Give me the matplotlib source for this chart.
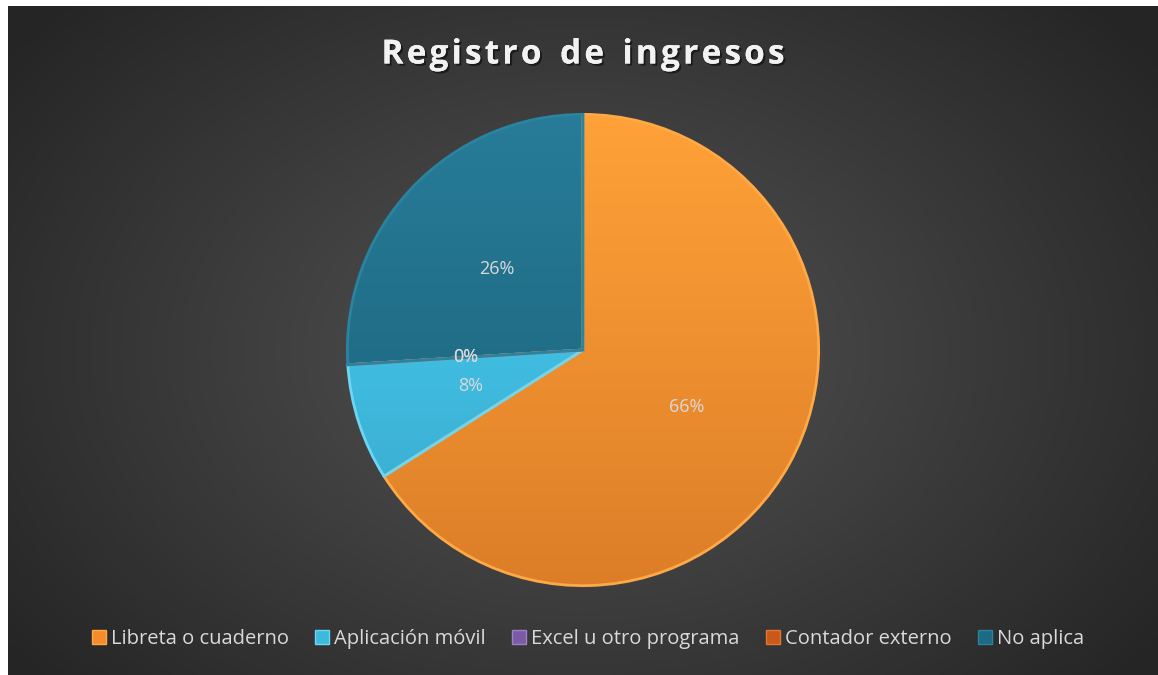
import numpy as np
import matplotlib
matplotlib.use("Agg")
import matplotlib.pyplot as plt
import matplotlib.patheffects as pe
from matplotlib.patches import Rectangle
from matplotlib.colors import to_rgb

categories = ["Libreta o cuaderno", "Aplicación móvil", "Excel u otro programa",
              "Contador externo", "No aplica"]
values = [66, 8, 0, 0, 26]
colors = ["#F58C2C", "#3DB9DE", "#7B5BA6", "#C9581A", "#1D6A84"]
edge_colors = ["#FFA846", "#6CD6F5", "#9C80C8", "#E07830", "#2A839F"]
title = "Registro de ingresos"

W, H = 1158, 675
fig = plt.figure(figsize=(W / 100, H / 100), dpi=100)
fig.patch.set_facecolor("#262626")

# background with radial gradient
bg = fig.add_axes([0, 0, 1, 1])
bg.set_axis_off()
ny, nx = 400, 700
yy, xx = np.mgrid[0:ny, 0:nx]
cx, cy = nx * 0.5, ny * 0.52
d = np.sqrt(((xx - cx) / (nx * 0.62)) ** 2 + ((yy - cy) / (ny * 0.75)) ** 2)
d = np.clip(d, 0, 1)
c_in = np.array([0x54, 0x54, 0x54]) / 255
c_out = np.array([0x25, 0x25, 0x25]) / 255
img = c_in[None, None, :] * (1 - d[..., None]) + c_out[None, None, :] * d[..., None]
bg.imshow(img, extent=[0, 1, 0, 1], aspect="auto", origin="upper")
bg.set_xlim(0, 1)
bg.set_ylim(0, 1)
# white margins at left and top
bg.add_patch(Rectangle((0, 0), 8 / W, 1, facecolor="white", edgecolor="none", zorder=5))
bg.add_patch(Rectangle((0, 1 - 6 / H), 1, 6 / H, facecolor="white", edgecolor="none", zorder=5))

# pie axes
R = 238
cxp, cyp = 583, 350
ax = fig.add_axes([(cxp - R) / W, (H - cyp - R) / H, 2 * R / W, 2 * R / H])
ax.set_axis_off()
wedges, texts, autotexts = ax.pie(
    values, colors=colors, startangle=90, counterclock=False,
    autopct="%1.0f%%", pctdistance=0.5, radius=1.0,
    wedgeprops=dict(linewidth=2.0),
    textprops=dict(color="#D9D9D9", fontsize=13, family="Open Sans", zorder=10))
for w, ec, c in zip(wedges, edge_colors, colors):
    w.set_edgecolor(ec)
    base = np.array(to_rgb(c))
    t = np.linspace(0, 1, 200)[:, None]  # 0 = top, 1 = bottom
    top = np.clip(base * 1.10 + 0.03, 0, 1)
    bot = base * 0.90
    grad = top[None, :] * (1 - t[..., None]) + bot[None, :] * t[..., None]
    grad = np.repeat(grad, 2, axis=1)
    im = ax.imshow(grad, extent=[-1, 1, -1, 1], origin="upper", aspect="auto", zorder=1.5)
    im.set_clip_path(w)
    w.set_zorder(2)
    w.set_facecolor("none")
ax.set_xlim(-1.01, 1.01)
ax.set_ylim(-1.01, 1.01)

# title with letter spacing
fig.canvas.draw()
renderer = fig.canvas.get_renderer()
tprops = dict(fontsize=24, fontweight="bold", color="#F2F2F2", family="Open Sans",
              va="center", ha="left",
              path_effects=[pe.withSimplePatchShadow(offset=(1.5, -1.5), alpha=0.5,
                                                     shadow_rgbFace="black"), pe.Normal()])
widths = []
for ch in title:
    tt = fig.text(0, 0, ch if ch != " " else "n", **tprops)
    bb = tt.get_window_extent(renderer)
    widths.append(bb.width * (0.55 if ch == " " else 1.0))
    tt.remove()
target = 403
spacing = (target - sum(widths)) / (len(title) - 1)
x = 583 - target / 2
for ch, wd in zip(title, widths):
    if ch != " ":
        fig.text(x / W, 1 - 55 / H, ch, **tprops)
    x += wd + spacing

# legend
handles = [Rectangle((0, 0), 1, 1, facecolor=c, edgecolor=e, linewidth=1.0)
           for c, e in zip(colors, edge_colors)]
leg = fig.legend(handles, categories, loc="center", bbox_to_anchor=(588 / W, 1 - 639 / H),
                 ncol=5, frameon=False, handlelength=0.7, handleheight=0.7,
                 handletextpad=0.25, columnspacing=1.3,
                 prop=dict(family="Open Sans", size=14.5))
for t in leg.get_texts():
    t.set_color("#D9D9D9")

fig.savefig("out.png", dpi=100, facecolor=fig.get_facecolor())
